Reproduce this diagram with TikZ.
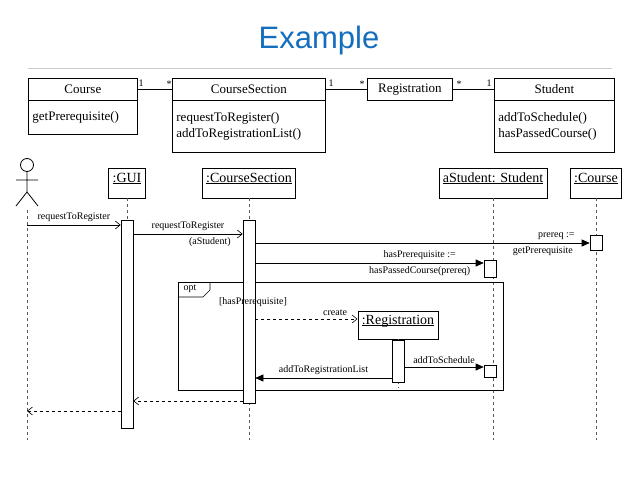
\documentclass[tikz,border=0pt]{standalone}
\usepackage{fontspec}
\setmainfont{Liberation Serif}
\newfontfamily\titlefont{Liberation Sans}
\usetikzlibrary{arrows.meta,calc,positioning}
\definecolor{titleblue}{RGB}{20,110,190}
\tikzset{
  cls/.style={draw,thick,minimum height=22pt,inner sep=3pt,font=\fontsize{13}{14}\selectfont},
  ops/.style={draw,thick,align=left,anchor=north west,inner sep=4pt,font=\fontsize{13}{16}\selectfont},
  obj/.style={draw,minimum height=30pt,inner sep=4pt,font=\fontsize{14}{15}\selectfont},
  act/.style={draw,fill=white,minimum width=12pt,inner sep=0pt},
  life/.style={dashed,gray!70!black},
  msg/.style={font=\fontsize{10}{11}\selectfont},
  call/.style={-{Triangle[length=8pt,width=7pt]}},
  sig/.style={-{Straight Barb[length=5pt,width=8pt]}},
  ret/.style={dashed,-{Straight Barb[length=5pt,width=8pt]}}
}
\newcommand{\ul}[1]{\underline{\smash{#1}}}
\begin{document}
\begin{tikzpicture}[x=1pt,y=-1pt,line width=0.6pt]
\useasboundingbox (0,0) rectangle (638,479);
\node[text=titleblue,font=\titlefont\fontsize{31}{33}\selectfont] (title) at (319,40) {Example};
\draw[gray!40,thick] (28,68) -- (612,68);
% class diagram
\node[cls,minimum width=109pt,anchor=north west] (course) at (28,78) {Course};
\node[ops,text width=101pt,minimum height=34pt] (courseop) at (28,100) {getPrerequisite()};
\node[cls,minimum width=153pt,anchor=north west] (section) at (172,78) {CourseSection};
\node[ops,text width=145pt,minimum height=52pt] (sectionop) at (172,100) {requestToRegister()\\addToRegistrationList()};
\node[cls,minimum width=85pt,anchor=north west] (reg) at (367,78) {Registration};
\node[cls,minimum width=120pt,anchor=north west] (student) at (494,78) {Student};
\node[ops,text width=112pt,minimum height=52pt] (studentop) at (494,100) {addToSchedule()\\hasPassedCourse()};
\draw[thick] (course.east) -- (section.west);
\draw[thick] (section.east) -- (reg.west);
\draw[thick] (reg.east) -- (student.west);
\node[msg] at (141,83) {1}; \node[msg] at (169,84) {*};
\node[msg] at (331,83) {1}; \node[msg] at (362,84) {*};
\node[msg] at (459,84) {*}; \node[msg] at (489,83) {1};
% actor
\draw[thick] (27,165) circle (6.5);
\draw[thick] (27,171) -- (27,192) (16,180) -- (38,180) (16,206) -- (27,192) -- (38,206);
\coordinate (actor) at (27,210);
% objects
\node[obj] (gui) at (127,183) {\ul{:GUI}};
\node[obj] (cs) at (249,183) {\ul{:CourseSection}};
\node[obj] (stu) at (493,183) {\ul{aStudent: Student}};
\node[obj] (crs) at (596,183) {\ul{:Course}};
\draw[life] (actor) -- (27,440);
\draw[life] (gui.south) -- (127,430);
\draw[life] (cs.south) -- (249,440);
\draw[life] (stu.south) -- (493,440);
\draw[life] (crs.south) -- (596,440);
% opt frame
\draw[thick] (178,282) rectangle (503,390);
\draw (178,297) -- (203,297) -- (210,290) -- (210,282);
\node[obj,minimum height=28pt] (regobj) at (398,325) {\ul{:Registration}};
\draw[life] (regobj.south) -- (398,388);
% activations
\node[act,minimum height=208pt,anchor=north] (guiact) at (127,220) {};
\node[act,minimum height=183pt,anchor=north] (csact) at (249,220) {};
\node[act,minimum height=15pt,anchor=north] (crsact) at (596,235) {};
\node[act,minimum height=17pt,anchor=north] (stuact1) at (490,260) {};
\node[act,minimum height=42pt,anchor=north] (regact) at (398,340) {};
\node[act,minimum height=12pt,anchor=north] (stuact2) at (490,365) {};
\node[msg,anchor=west] at (180,289) {opt};
\node[msg] at (253,302) {[hasPrerequisite]};
% messages
\draw[sig] (27,225) -- (guiact.west |- 0,225) node[msg,midway,above] {requestToRegister};
\draw[sig] (guiact.east |- 0,234) -- (csact.west |- 0,234) node[msg,midway,above] {requestToRegister} node[msg,pos=0.7,below] {(aStudent)};
\draw[call] (csact.east |- 0,243) -- (crsact.west |- 0,243) node[msg,pos=0.9,above] {prereq :=} node[msg,pos=0.86,below] {getPrerequisite};
\draw[call] (csact.east |- 0,263) -- (stuact1.west |- 0,263) node[msg,pos=0.72,above] {hasPrerequisite :=} node[msg,pos=0.72,below] {hasPassedCourse(prereq)};
\draw[ret] (csact.east |- 0,319) -- (regobj.west |- 0,319) node[msg,pos=0.78,above] {create};
\draw[call] (regact.east |- 0,367) -- (stuact2.west |- 0,367) node[msg,midway,above] {addToSchedule};
\draw[call] (regact.west |- 0,378) -- (csact.east |- 0,378) node[msg,midway,above] {addToRegistrationList};
\draw[ret] (csact.west |- 0,401) -- (guiact.east |- 0,401);
\draw[ret] (guiact.west |- 0,411) -- (27,411);
\end{tikzpicture}
\end{document}
